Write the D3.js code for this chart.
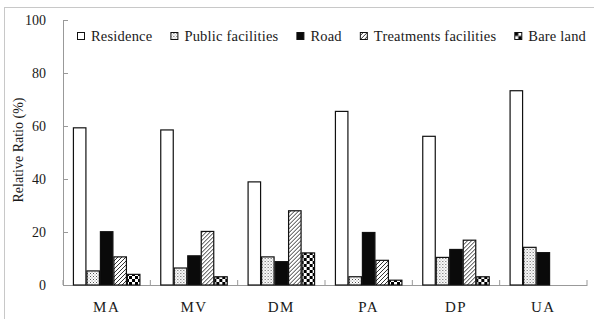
<!DOCTYPE html>
<html>
<head>
<meta charset="utf-8">
<script src="https://cdn.jsdelivr.net/npm/d3@7/dist/d3.min.js"></script>
<style>
  html, body { margin: 0; padding: 0; background: #fff; }
  svg { display: block; }
  text { font-family: "Liberation Serif", "Times New Roman", serif; fill: #1a1a1a; }
</style>
</head>
<body>
<svg id="chart" width="594" height="319"></svg>
<script>
const categories = ["MA", "MV", "DM", "PA", "DP", "UA"];
const series = ["Residence", "Public facilities", "Road", "Treatments facilities", "Bare land"];
const residence  = [59.5, 58.7, 39.1, 65.7, 56.3, 73.5];
const publicFac  = [5.5, 6.6, 10.8, 3.3, 10.6, 14.4];
const road       = [20.3, 11.2, 9.0, 20.0, 13.6, 12.4];
const treatment  = [10.8, 20.4, 28.2, 9.5, 17.1, 0];
const bareLand   = [4.2, 3.3, 12.3, 2.0, 3.3, 0];
const yTicks = [0, 20, 40, 60, 80, 100];
const yTitle = "Relative Ratio (%)";

const valuesBySeries = [residence, publicFac, road, treatment, bareLand];

const svg = d3.select("#chart");
const W = 594, H = 319;
const margin = { left: 63, right: 7, top: 20, bottom: 34 };

// frame
svg.append("rect").attr("x", 4.5).attr("y", 7.5).attr("width", 620).attr("height", 340)
  .attr("fill", "none").attr("stroke", "#c8c8c8").attr("stroke-width", 1);

// patterns
const defs = svg.append("defs");
const pDots = defs.append("pattern").attr("id", "dots").attr("patternUnits", "userSpaceOnUse")
  .attr("width", 3).attr("height", 3);
pDots.append("rect").attr("width", 3).attr("height", 3).attr("fill", "#fff");
pDots.append("rect").attr("x", 0).attr("y", 0).attr("width", 1).attr("height", 1).attr("fill", "#555");
pDots.append("rect").attr("x", 1.5).attr("y", 1.5).attr("width", 1).attr("height", 1).attr("fill", "#888");

const pHatch = defs.append("pattern").attr("id", "hatch").attr("patternUnits", "userSpaceOnUse")
  .attr("width", 4).attr("height", 4);
pHatch.append("rect").attr("width", 4).attr("height", 4).attr("fill", "#fff");
pHatch.append("path").attr("d", "M-1,1 L1,-1 M0,4 L4,0 M3,5 L5,3")
  .attr("stroke", "#333").attr("stroke-width", 1);

const pCheck = defs.append("pattern").attr("id", "check").attr("patternUnits", "userSpaceOnUse")
  .attr("width", 6).attr("height", 6);
pCheck.append("rect").attr("width", 6).attr("height", 6).attr("fill", "#fff");
pCheck.append("rect").attr("width", 3).attr("height", 3).attr("fill", "#000");
pCheck.append("rect").attr("x", 3).attr("y", 3).attr("width", 3).attr("height", 3).attr("fill", "#000");

const pCheckL = defs.append("pattern").attr("id", "checkL").attr("patternUnits", "objectBoundingBox")
  .attr("width", 1).attr("height", 1).attr("patternContentUnits", "objectBoundingBox");
pCheckL.append("rect").attr("width", 1).attr("height", 1).attr("fill", "#fff");
pCheckL.append("rect").attr("width", 0.5).attr("height", 0.5).attr("fill", "#000");
pCheckL.append("rect").attr("x", 0.5).attr("y", 0.5).attr("width", 0.5).attr("height", 0.5).attr("fill", "#000");

const fills = ["#fff", "url(#dots)", "#0a0a0a", "url(#hatch)", "url(#check)"];
const legendFills = ["#fff", "url(#dots)", "#0a0a0a", "url(#hatch)", "url(#checkL)"];

const x0 = d3.scaleBand().domain(categories).range([margin.left, W - margin.right]).paddingInner(0).paddingOuter(0);
const x1 = d3.scaleBand().domain(series).range([0, x0.bandwidth()]).paddingInner(0).paddingOuter(0.735);
const y = d3.scaleLinear().domain([0, 100]).range([H - margin.bottom, margin.top]);

// y axis
const yAxis = d3.axisLeft(y).tickValues(yTicks).tickSize(-5).tickPadding(17);
const gy = svg.append("g").attr("transform", `translate(${margin.left},0)`).call(yAxis);
gy.select(".domain").attr("stroke", "#999");
gy.selectAll(".tick line").attr("stroke", "#999");
gy.selectAll(".tick text").attr("font-size", 14).attr("font-family", "Liberation Serif").attr("fill", "#1a1a1a");

// x axis
const xAxis = d3.axisBottom(x0).tickSize(0).tickPadding(16);
const gx = svg.append("g").attr("transform", `translate(0,${y(0)})`).call(xAxis);
gx.select(".domain").attr("stroke", "#999");
gx.selectAll(".tick text").attr("font-size", 15).attr("font-family", "Liberation Serif")
  .attr("letter-spacing", 1.5).attr("fill", "#1a1a1a");
// category boundary ticks
const bounds = categories.map(c => x0(c)).concat([x0(categories[categories.length - 1]) + x0.bandwidth()]);
gx.selectAll(".bound").data(bounds).enter().append("line").attr("class", "bound")
  .attr("x1", d => d).attr("x2", d => d).attr("y1", 0).attr("y2", -5).attr("stroke", "#999");

// bars
const groups = svg.append("g").selectAll("g").data(categories).enter().append("g")
  .attr("transform", c => `translate(${x0(c)},0)`);
groups.selectAll("rect").data((c, i) => series.map((s, si) => ({ s, si, v: valuesBySeries[si][i] })))
  .enter().filter(d => d.v > 0).append("rect")
  .attr("x", d => x1(d.s) + 0.5)
  .attr("y", d => y(d.v) + 0.5)
  .attr("width", x1.bandwidth() - 1)
  .attr("height", d => y(0) - y(d.v) - 0.5)
  .attr("fill", d => fills[d.si])
  .attr("stroke", "#111").attr("stroke-width", 1.2);

// y title
svg.append("text").attr("transform", `translate(23,150) rotate(-90)`)
  .attr("text-anchor", "middle").attr("font-size", 14).text(yTitle);

// legend
const lg = svg.append("g").attr("transform", "translate(77,36)");
let lx = 0;
series.forEach((s, i) => {
  const it = lg.append("g").attr("transform", `translate(${lx},0)`);
  it.append("rect").attr("x", 0.5).attr("y", -3.5).attr("width", 7).attr("height", 7)
    .attr("fill", legendFills[i]).attr("stroke", "#111").attr("stroke-width", 1);
  const t = it.append("text").attr("x", 14).attr("y", 5).attr("font-size", 14.5)
    .attr("letter-spacing", 0.2).text(s);
  lx += 14 + t.node().getComputedTextLength() + 18;
});
</script>
</body>
</html>
